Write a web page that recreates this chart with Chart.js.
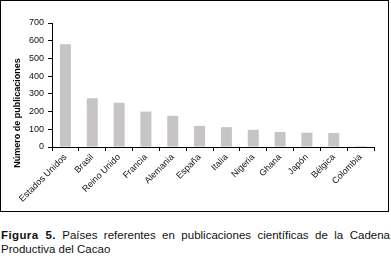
<!DOCTYPE html>
<html>
<head>
<meta charset="utf-8">
<script src="https://cdn.jsdelivr.net/npm/chart.js@4.4.1/dist/chart.umd.min.js"></script>
<style>
  body { margin: 0; background: #fff; width: 391px; height: 259px; overflow: hidden; position: relative; }
  #frame { position: absolute; left: 0; top: 0; width: 387px; height: 210px; border: 1.5px solid #000; }
  #frame canvas { display: block; }
  #caption {
    position: absolute; left: 1px; top: 228px; width: 389px;
    font-family: "Liberation Sans", Arial, sans-serif;
    font-size: 11.5px; line-height: 14px; text-align: justify; color: #111;
  }
  #caption b { font-size: 11.5px; letter-spacing: 0.4px; }
</style>
</head>
<body>
<div id="frame"><canvas id="chart" width="387" height="210"></canvas></div>
<div id="caption"><b>Figura 5.</b> Países referentes en publicaciones científicas de la Cadena Productiva del Cacao</div>
<script>
const paises = ["Estados Unidos", "Brasil", "Reino Unido", "Francia", "Alemania", "España", "Italia", "Nigeria", "Ghana", "Japón", "Bélgica", "Colombia"];
const publicaciones = [580, 275, 250, 200, 176, 119, 112, 97, 85, 81, 79, 6];
const yTicks = [0, 100, 200, 300, 400, 500, 600, 700];
const yTitle = "Número de publicaciones";

// speckled fill like the original bars
const pc = document.createElement("canvas");
pc.width = 2; pc.height = 2;
const px = pc.getContext("2d");
px.fillStyle = "#cbbdc9"; px.fillRect(0, 0, 2, 2);
px.fillStyle = "#c3cac0"; px.fillRect(1, 0, 1, 1); px.fillRect(0, 1, 1, 1);
const ctx = document.getElementById("chart").getContext("2d");
const pattern = ctx.createPattern(pc, "repeat");

const font = { family: "'Liberation Sans', Arial, sans-serif", size: 9 };

// axis title sits lower than the plot centre in the original, so draw it by hand
const yTitlePlugin = {
  id: "yTitle",
  afterDraw(chart) {
    const c = chart.ctx;
    c.save();
    c.translate(17, 112);
    c.rotate(-Math.PI / 2);
    c.font = "bold 9px " + font.family;
    c.fillStyle = "#000";
    c.textAlign = "center";
    c.textBaseline = "middle";
    c.fillText(yTitle, 0, 0);
    c.restore();
  }
};

new Chart(ctx, {
  type: "bar",
  data: {
    labels: paises,
    datasets: [{
      data: publicaciones,
      backgroundColor: pattern,
      borderWidth: 0,
      categoryPercentage: 1,
      barPercentage: 0.41
    }]
  },
  options: {
    responsive: false,
    animation: false,
    layout: { padding: { top: 22, right: 14, left: 0, bottom: 0 } },
    plugins: { legend: { display: false }, tooltip: { enabled: false } },
    scales: {
      x: {
        grid: { display: true, drawOnChartArea: false, drawTicks: true, tickLength: 4, color: "#000", offset: true },
        border: { color: "#000", width: 1 },
        ticks: { color: "#111", font: font, minRotation: 45, maxRotation: 45, autoSkip: false, padding: 1 },
        afterFit: s => { s.height = 64; }
      },
      y: {
        min: 0, max: 700,
        afterBuildTicks: s => { s.ticks = yTicks.map(v => ({ value: v })); },
        grid: { display: true, drawOnChartArea: false, drawTicks: true, tickLength: 4, color: "#000" },
        border: { color: "#000", width: 1 },
        ticks: { color: "#111", font: font, padding: 4 },
        afterFit: s => { s.width = 51; }
      }
    }
  },
  plugins: [yTitlePlugin]
});
</script>
</body>
</html>
